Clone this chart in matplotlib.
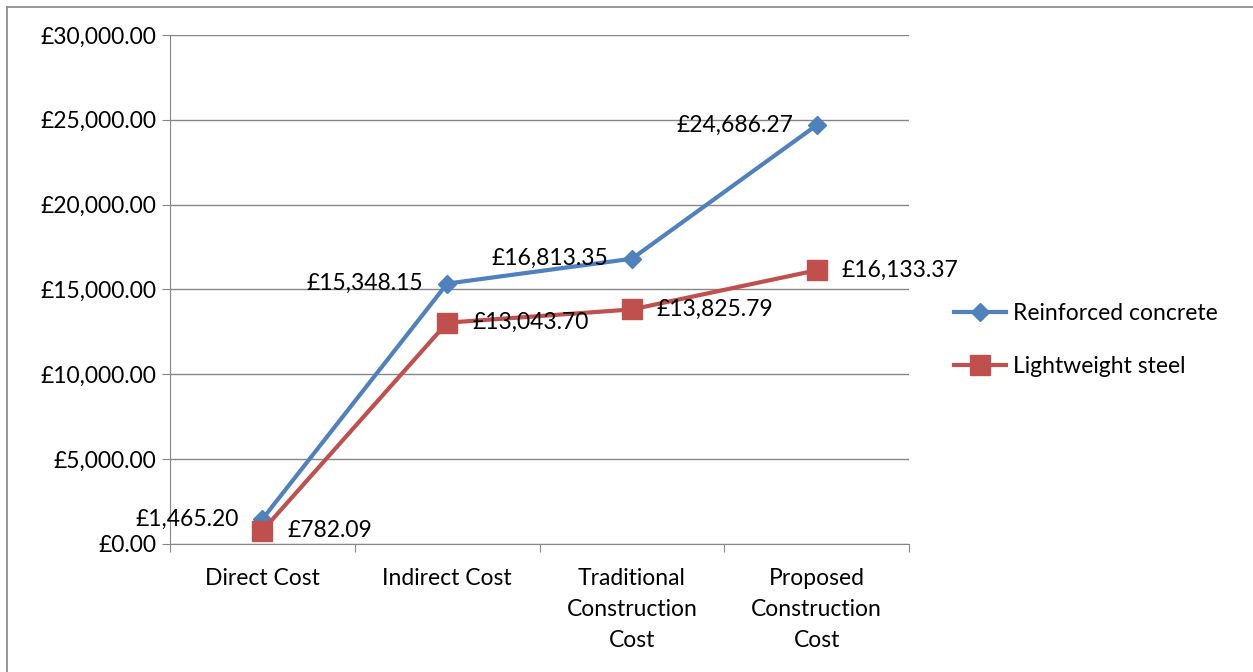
import matplotlib.pyplot as plt
from matplotlib.lines import Line2D
from matplotlib.ticker import FuncFormatter

plt.rcParams['font.family'] = ['Lato', 'DejaVu Sans']

categories = ['Direct Cost', 'Indirect Cost', 'Traditional\nConstruction\nCost', 'Proposed\nConstruction\nCost']
concrete = [1465.20, 15348.15, 16813.35, 24686.27]
steel = [782.09, 13043.70, 13825.79, 16133.37]
blue = '#4F81BD'
red = '#C0504D'
fs = 16.5

fig = plt.figure(figsize=(12.53, 6.72), dpi=100)
ax = fig.add_axes([0.1357, 0.1905, 0.5898, 0.7574])

x = list(range(len(categories)))
ax.plot(x, concrete, color=blue, lw=3, marker='D', ms=9, label='Reinforced concrete')
ax.plot(x, steel, color=red, lw=3, marker='s', ms=14, label='Lightweight steel')

for i, v in enumerate(concrete):
    ax.annotate(f'£{v:,.2f}', (i, v), textcoords='offset points', xytext=(-17, 0),
                ha='right', va='center', fontsize=fs)
for i, v in enumerate(steel):
    ax.annotate(f'£{v:,.2f}', (i, v), textcoords='offset points', xytext=(18, 0),
                ha='left', va='center', fontsize=fs)

ax.set_xlim(-0.5, 3.5)
ax.set_ylim(0, 30000)
ax.set_yticks(range(0, 30001, 5000))
ax.yaxis.set_major_formatter(FuncFormatter(lambda v, p: f'£{v:,.2f}'))
ax.set_xticks([-0.5, 0.5, 1.5, 2.5, 3.5])
ax.set_xticklabels([])
ax.set_xticks(x, minor=True)
ax.set_xticklabels(categories, minor=True, fontsize=fs, linespacing=1.6)
ax.tick_params(axis='x', which='minor', length=0, pad=17)
ax.tick_params(axis='x', which='major', length=6, color='#868686')
ax.tick_params(axis='y', length=6, color='#868686', labelsize=fs, pad=4)
ax.grid(axis='y', color='#868686', lw=1)
ax.set_axisbelow(True)
for s in ['top', 'right']:
    ax.spines[s].set_visible(False)
for s in ['left', 'bottom']:
    ax.spines[s].set_color('#868686')

ax.legend(loc='center left', bbox_to_anchor=(1.045, 0.40), frameon=False, fontsize=fs,
          handlelength=2.3, labelspacing=1.4, handletextpad=0.3, borderpad=0)

fig.add_artist(Line2D([7 / 1253, 7 / 1253], [0, 1 - 7 / 672], color='#868686', lw=1.2))
fig.add_artist(Line2D([7 / 1253, 1], [1 - 7 / 672, 1 - 7 / 672], color='#868686', lw=1.2))

fig.savefig('out.png', dpi=100)
